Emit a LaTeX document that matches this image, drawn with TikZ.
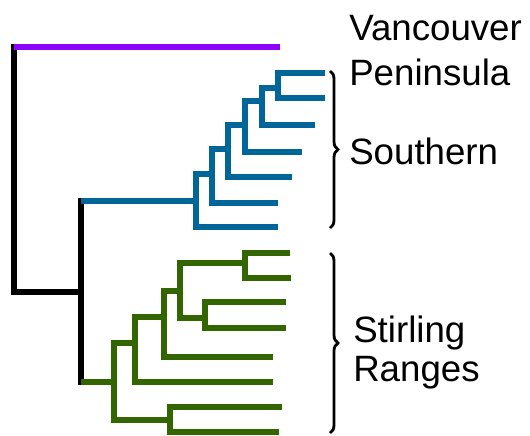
\documentclass[tikz,border=0pt]{standalone}
\usepackage{fontspec}
\setmainfont{Liberation Sans}
\usetikzlibrary{decorations.pathreplacing}
\definecolor{vpurple}{RGB}{140,0,255}
\definecolor{sblue}{RGB}{0,102,153}
\definecolor{rgreen}{RGB}{51,102,0}

\begin{document}
\begin{tikzpicture}[x=0.75pt, y=-0.75pt, br/.style = {line width=4pt, line join=miter}, brc/.style = {decorate, decoration={brace, amplitude=6pt}, line width=2.1pt}, lab/.style = {anchor=base west, inner sep=0pt, font=\fontsize{27.5}{33}\selectfont}]

\useasboundingbox (0,0) rectangle (530,435);

% Tips
\coordinate (vp) at (280,47);
\coordinate (s1) at (325,73);
\coordinate (s2) at (325,98);
\coordinate (s3) at (315,125);
\coordinate (s4) at (302,152);
\coordinate (s5) at (292,177);
\coordinate (s6) at (278,203);
\coordinate (s7) at (278,227);
\coordinate (r1) at (290,253);
\coordinate (r2) at (291,278);
\coordinate (r3) at (286,302);
\coordinate (r4) at (286,328);
\coordinate (r5) at (273,357);
\coordinate (r6) at (273,382);
\coordinate (r7) at (282,407);
\coordinate (r8) at (279,432);

% Inner nodes
\coordinate (root) at (14,170);
\coordinate (jn) at (81,292);
\coordinate (sn1) at (196,201);
\coordinate (sn2) at (212,174);
\coordinate (sn3) at (228,149);
\coordinate (sn4) at (245,125);
\coordinate (sn5) at (262,101);
\coordinate (sn6) at (278,88);
\coordinate (rn1) at (114,382);
\coordinate (rn2) at (135,343);
\coordinate (rn3) at (164,317);
\coordinate (rn4) at (180,291);
\coordinate (rn5) at (205,318);
\coordinate (rn6) at (245,263);
\coordinate (rn7) at (170,420);

% Root and junction
\draw[br, black, line cap=rect] (vp -| root) -- (jn -| root) -- (jn);
\draw[br, vpurple] (vp -| root) -- (vp);
\draw[br, black, line cap=rect] (sn1 -| jn) -- (rn1 -| jn);
\draw[br, sblue] (sn1 -| jn) -- (sn1);
\draw[br, rgreen] (rn1 -| jn) -- (rn1);

% Southern clade
\foreach \p/\a/\b in {sn6/s1/s2, sn5/sn6/s3, sn4/sn5/s4, sn3/sn4/s5, sn2/sn3/s6, sn1/sn2/s7}
  \draw[br, sblue] (\a) -| (\p |- \b) -- (\b);

% Stirling Ranges clade
\foreach \p/\a/\b in {rn6/r1/r2, rn5/r3/r4, rn4/rn6/rn5, rn3/rn4/r5, rn2/rn3/r6, rn7/r7/r8, rn1/rn2/rn7}
  \draw[br, rgreen] (\a) -| (\p |- \b) -- (\b);

% Braces
\coordinate (sb1) at (330,71);
\coordinate (sb2) at (330,228);
\coordinate (rb1) at (330,253);
\coordinate (rb2) at (330,433);
\draw[brc] (sb1) -- (sb2);
\draw[brc] (rb1) -- (rb2);

% Labels
\node[lab] (vanc) at (349,40.5) {Vancouver};
\node[lab] (pen) at (349,85) {Peninsula};
\node[lab] (south) at (349,164) {Southern};
\node[lab] (stir) at (353,342) {Stirling};
\node[lab] (rang) at (353,381) {Ranges};

\end{tikzpicture}
\end{document}
